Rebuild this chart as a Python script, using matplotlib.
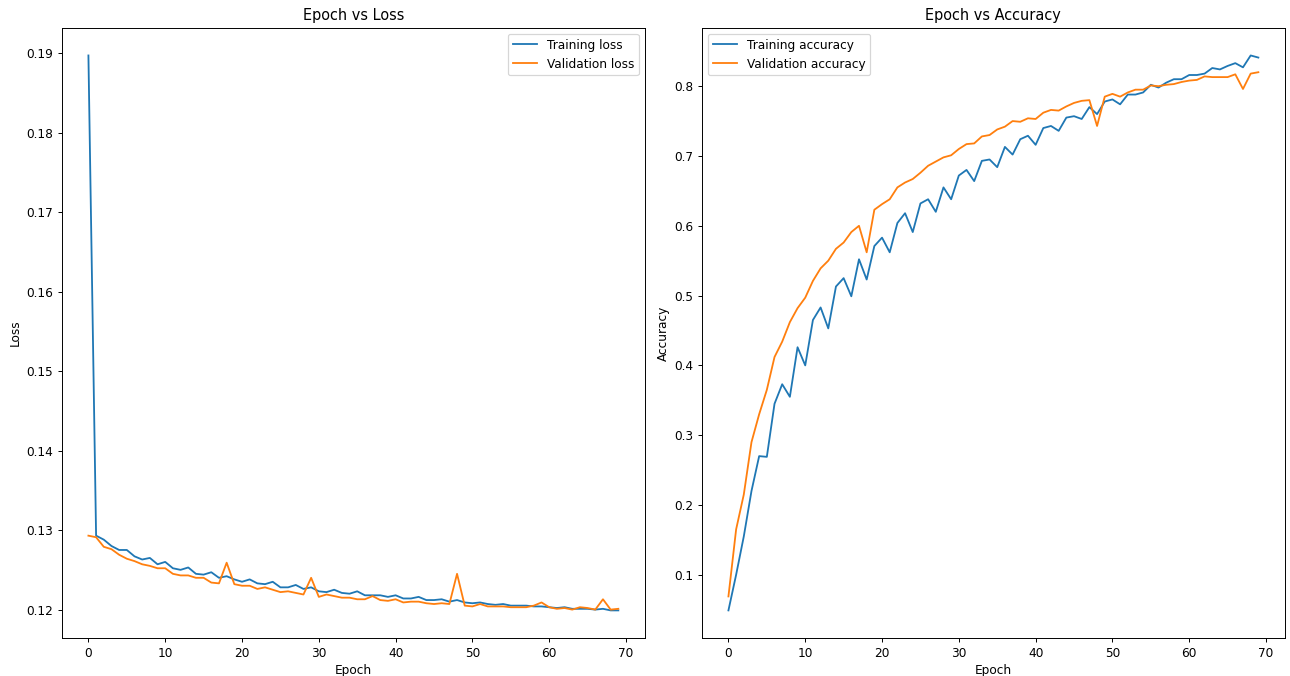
import matplotlib
matplotlib.use("Agg")
import matplotlib.pyplot as plt

epochs = list(range(70))

train_loss = [
    0.1897, 0.1293, 0.1288, 0.1280, 0.1275, 0.1275, 0.1267, 0.1263, 0.1265, 0.1257,
    0.1260, 0.1252, 0.1250, 0.1253, 0.1245, 0.1244, 0.1247, 0.1240, 0.1242, 0.1238,
    0.1235, 0.1238, 0.1233, 0.1232, 0.1235, 0.1228, 0.1228, 0.1231, 0.1226, 0.1228,
    0.1223, 0.1222, 0.1225, 0.1221, 0.1220, 0.1223, 0.1218, 0.1218, 0.1218, 0.1216,
    0.1218, 0.1214, 0.1214, 0.1216, 0.1212, 0.1212, 0.1213, 0.1210, 0.1212, 0.1209,
    0.1208, 0.1209, 0.1207, 0.1206, 0.1207, 0.1205, 0.1205, 0.1205, 0.1204, 0.1204,
    0.1203, 0.1202, 0.1203, 0.1201, 0.1201, 0.1201, 0.1200, 0.1201, 0.1199, 0.1199,
]

val_loss = [
    0.1293, 0.1291, 0.1279, 0.1276, 0.1269, 0.1264, 0.1261, 0.1257, 0.1255, 0.1252,
    0.1252, 0.1245, 0.1243, 0.1243, 0.1240, 0.1240, 0.1234, 0.1233, 0.1259, 0.1232,
    0.1230, 0.1230, 0.1226, 0.1228, 0.1225, 0.1222, 0.1223, 0.1221, 0.1219, 0.1240,
    0.1216, 0.1219, 0.1217, 0.1215, 0.1215, 0.1213, 0.1213, 0.1217, 0.1212, 0.1211,
    0.1213, 0.1209, 0.1210, 0.1210, 0.1208, 0.1207, 0.1208, 0.1207, 0.1245, 0.1205,
    0.1204, 0.1207, 0.1204, 0.1204, 0.1204, 0.1203, 0.1203, 0.1203, 0.1205, 0.1209,
    0.1203, 0.1201, 0.1202, 0.1200, 0.1203, 0.1202, 0.1200, 0.1213, 0.1200, 0.1201,
]

train_acc = [
    0.049, 0.100, 0.155, 0.220, 0.270, 0.269, 0.345, 0.373, 0.355, 0.426,
    0.400, 0.465, 0.483, 0.453, 0.513, 0.525, 0.499, 0.552, 0.523, 0.571,
    0.583, 0.562, 0.604, 0.618, 0.591, 0.632, 0.638, 0.620, 0.655, 0.638,
    0.672, 0.680, 0.664, 0.693, 0.695, 0.684, 0.713, 0.702, 0.724, 0.729,
    0.716, 0.740, 0.743, 0.736, 0.755, 0.757, 0.753, 0.770, 0.760, 0.778,
    0.781, 0.774, 0.788, 0.788, 0.791, 0.802, 0.798, 0.805, 0.810, 0.810,
    0.816, 0.816, 0.818, 0.826, 0.824, 0.829, 0.833, 0.827, 0.844, 0.841,
]

val_acc = [
    0.069, 0.165, 0.215, 0.290, 0.330, 0.365, 0.412, 0.434, 0.462, 0.482,
    0.497, 0.521, 0.539, 0.550, 0.567, 0.576, 0.591, 0.600, 0.562, 0.623,
    0.631, 0.638, 0.655, 0.662, 0.667, 0.676, 0.686, 0.692, 0.698, 0.701,
    0.710, 0.717, 0.718, 0.728, 0.730, 0.738, 0.742, 0.750, 0.749, 0.754,
    0.753, 0.762, 0.766, 0.765, 0.771, 0.776, 0.779, 0.780, 0.743, 0.785,
    0.789, 0.785, 0.791, 0.795, 0.795, 0.801, 0.800, 0.802, 0.803, 0.806,
    0.808, 0.809, 0.814, 0.813, 0.813, 0.813, 0.817, 0.796, 0.818, 0.820,
]

DPI = 87
fig, (ax1, ax2) = plt.subplots(1, 2, figsize=(1290 / DPI, 676 / DPI), dpi=DPI)
fig.subplots_adjust(left=0.048, right=0.996, bottom=0.056, top=0.959, wspace=0.098)

ax1.plot(epochs, train_loss, label="Training loss")
ax1.plot(epochs, val_loss, label="Validation loss")
ax1.set_title("Epoch vs Loss")
ax1.set_xlabel("Epoch")
ax1.set_ylabel("Loss")
ax1.legend(loc="upper right")

ax2.plot(epochs, train_acc, label="Training accuracy")
ax2.plot(epochs, val_acc, label="Validation accuracy")
ax2.set_title("Epoch vs Accuracy")
ax2.set_xlabel("Epoch")
ax2.set_ylabel("Accuracy")
ax2.legend(loc="upper left")

fig.savefig("out.png", dpi=DPI)
